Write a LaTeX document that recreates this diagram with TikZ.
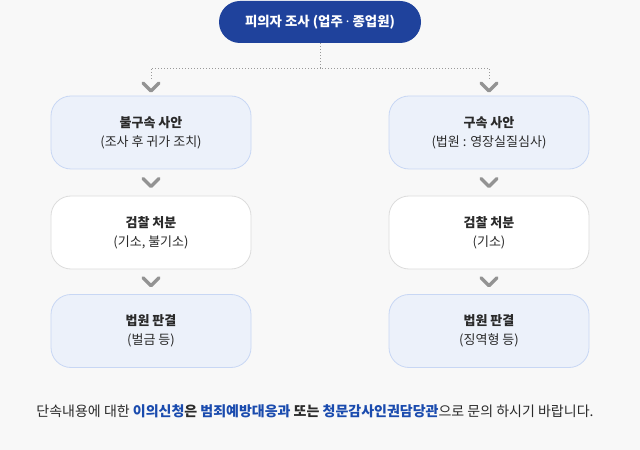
\documentclass[tikz,border=0pt]{standalone}
\usepackage{fontspec}
\setmainfont{Noto Sans CJK KR}
\newfontfamily\latinpoint{Noto Sans}
\usepackage{tikz}
\usetikzlibrary{positioning,calc}
\definecolor{fondgris}{HTML}{F8F8F8}
\definecolor{bleufonce}{HTML}{1F429C}
\definecolor{bleuclair}{HTML}{ECF1FA}
\definecolor{bordbleu}{HTML}{C8D7F4}
\definecolor{bordgris}{HTML}{DCDCDC}
\definecolor{gristexte}{HTML}{2A2A2A}
\definecolor{bleulien}{HTML}{1A4BAE}

\begin{document}
\begin{tikzpicture}[x=1bp,y=-1bp]
\tikzstyle{tete}=[fill=bleufonce,text=white,rounded corners=21bp,minimum width=202bp,minimum height=42bp,font=\fontsize{13.4bp}{16bp}\selectfont\bfseries]
\tikzstyle{boite}=[draw=bordbleu,fill=bleuclair,rounded corners=20bp,minimum width=200bp,minimum height=73bp,align=center,text=gristexte,font=\fontsize{13bp}{19bp}\selectfont,line width=0.8bp]
\tikzstyle{blanche}=[boite,draw=bordgris,fill=white]
\tikzstyle{pointille}=[draw=gray!80,line width=0.8bp,dash pattern=on 1bp off 2bp]
\tikzstyle{chevron}=[draw=gray!85,line width=3.5bp,line cap=round,line join=round]
\def\ColonneG{151}
\def\ColonneD{489}
\def\NiveauA{22}
\def\NiveauB{132.5}
\def\NiveauC{232.5}
\def\NiveauD{331}
\def\Chevron#1{\draw[chevron] ($#1+(-8,-4)$) -- ($#1+(0,4)$) -- ($#1+(8,-4)$);}
% fond
\fill[fondgris] (0,0) rectangle (640,450);
\useasboundingbox (0,0) rectangle (640,450);
% noeuds
\node[tete] (T) at (320,\NiveauA) {피의자 조사 (업주 {\latinpoint ·} 종업원)};
\node[boite] (G1) at (\ColonneG,\NiveauB) {\textbf{불구속 사안}\\(조사 후 귀가 조치)};
\node[blanche] (G2) at (\ColonneG,\NiveauC) {\textbf{검찰 처분}\\(기소, 불기소)};
\node[boite] (G3) at (\ColonneG,\NiveauD) {\textbf{법원 판결}\\(벌금 등)};
\node[boite] (D1) at (\ColonneD,\NiveauB) {\textbf{구속 사안}\\(법원 : 영장실질심사)};
\node[blanche] (D2) at (\ColonneD,\NiveauC) {\textbf{검찰 처분}\\(기소)};
\node[boite] (D3) at (\ColonneD,\NiveauD) {\textbf{법원 판결}\\(징역형 등)};
\node[text=gristexte,font=\fontsize{14bp}{16bp}\selectfont] (N) at (315,411) {단속내용에 대한 \textbf{\textcolor{bleulien}{이의신청}은} \textbf{\textcolor{bleulien}{범죄예방대응과}} \textbf{또는} \textbf{\textcolor{bleulien}{청문감사인권담당관}}으로 문의 하시기 바랍니다.};
% liaisons
\coordinate (JG) at (\ColonneG,68);
\coordinate (JD) at (\ColonneD,68);
\coordinate (FG) at (\ColonneG,80);
\coordinate (FD) at (\ColonneD,80);
\draw[pointille] (T.south) |- (JG) -- (FG);
\draw[pointille] (T.south) |- (JD) -- (FD);
\Chevron{(\ColonneG,87)}
\Chevron{(\ColonneD,87)}
\Chevron{($(G1.south)!0.5!(G2.north)$)}
\Chevron{($(G2.south)!0.5!(G3.north)$)}
\Chevron{($(D1.south)!0.5!(D2.north)$)}
\Chevron{($(D2.south)!0.5!(D3.north)$)}
\end{tikzpicture}
\end{document}
